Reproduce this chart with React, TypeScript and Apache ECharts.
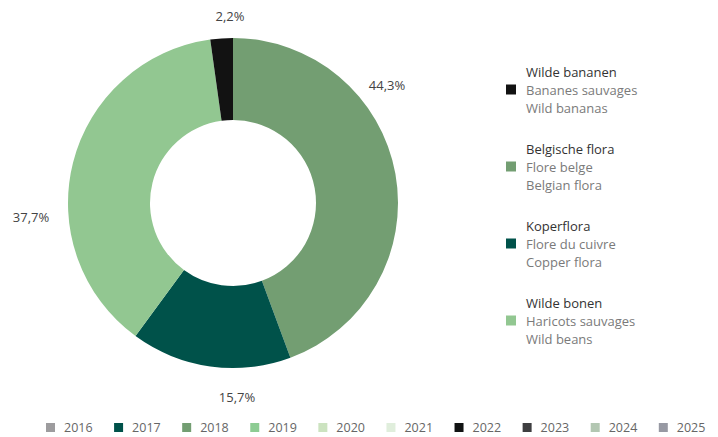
import React, { useEffect, useRef } from "react";
import * as echarts from "echarts";

const categories = ["Belgische flora", "Koperflora", "Wilde bonen", "Wilde bananen"];
const values = [44.3, 15.7, 37.7, 2.2];
const frLabels = ["Flore belge", "Flore du cuivre", "Haricots sauvages", "Bananes sauvages"];
const enLabels = ["Belgian flora", "Copper flora", "Wild beans", "Wild bananas"];
const sliceColors = ["#739e72", "#00524a", "#92c791", "#121212"];
const legendOrder = ["Wilde bananen", "Belgische flora", "Koperflora", "Wilde bonen"];

const years = ["2016", "2017", "2018", "2019", "2020", "2021", "2022", "2023", "2024", "2025"];
const yearColors = ["#9d9c9e", "#00524a", "#739e72", "#8dcc93", "#cce3c0", "#e0eedc", "#111313", "#3e3e40", "#b3c7b2", "#9799a3"];

// label placement (layout only)
const labelPos: [number, number][] = [
  [387, 85],
  [237, 397],
  [31, 217],
  [230, 16],
];

export default function App() {
  const ref = useRef<HTMLDivElement>(null);
  useEffect(() => {
    document.body.style.margin = "0";
    const chart = echarts.init(ref.current!, null, { renderer: "svg" });
    const font = "'Open Sans', 'Noto Sans', sans-serif";
    chart.setOption({
      animation: false,
      textStyle: { fontFamily: font },
      legend: [
        {
          orient: "vertical",
          left: 501,
          top: 60,
          data: legendOrder,
          icon: "rect",
          itemWidth: 10,
          itemHeight: 10,
          itemGap: 28,
          selectedMode: false,
          formatter: (name: string) => {
            const i = categories.indexOf(name);
            return `{a|${name}}\n{b|${frLabels[i]}}\n{b|${enLabels[i]}}`;
          },
          textStyle: {
            fontFamily: font,
            rich: {
              a: { color: "#333333", fontSize: 13, lineHeight: 18, padding: [0, 0, 0, 5], fontFamily: font },
              b: { color: "#7a7a7a", fontSize: 13, lineHeight: 18, padding: [0, 0, 0, 5], fontFamily: font },
            },
          },
        },
        {
          orient: "horizontal",
          left: 41,
          top: 416,
          width: 1000,
          data: years,
          icon: "rect",
          itemWidth: 9,
          itemHeight: 9,
          itemGap: 21.5,
          selectedMode: false,
          textStyle: { fontFamily: font, fontSize: 12.5, color: "#666666", padding: [0, 0, 0, 4] },
        },
      ],
      series: [
        {
          type: "pie",
          name: "flora",
          center: [233, 203],
          radius: [83, 165],
          startAngle: 90,
          clockwise: true,
          silent: true,
          label: {
            show: true,
            position: "inside",
            overflow: "none",
            color: "#444444",
            fontSize: 13,
            fontFamily: font,
            formatter: (p: any) => `${p.value.toFixed(1).replace(".", ",")}%`,
          },
          labelLine: { show: false },
          labelLayout: (p: any) => ({
            x: labelPos[p.dataIndex][0],
            y: labelPos[p.dataIndex][1],
            align: "center",
            verticalAlign: "middle",
          }),
          data: categories.map((c, i) => ({
            name: c,
            value: values[i],
            itemStyle: { color: sliceColors[i] },
          })),
        },
        {
          type: "pie",
          name: "years",
          center: [-100, -100],
          radius: [0, 0],
          silent: true,
          label: { show: false },
          labelLine: { show: false },
          data: years.map((y, i) => ({ name: y, value: 1, itemStyle: { color: yearColors[i] } })),
        },
      ],
    });
    return () => chart.dispose();
  }, []);
  return <div ref={ref} style={{ width: 718, height: 437 }} />;
}
